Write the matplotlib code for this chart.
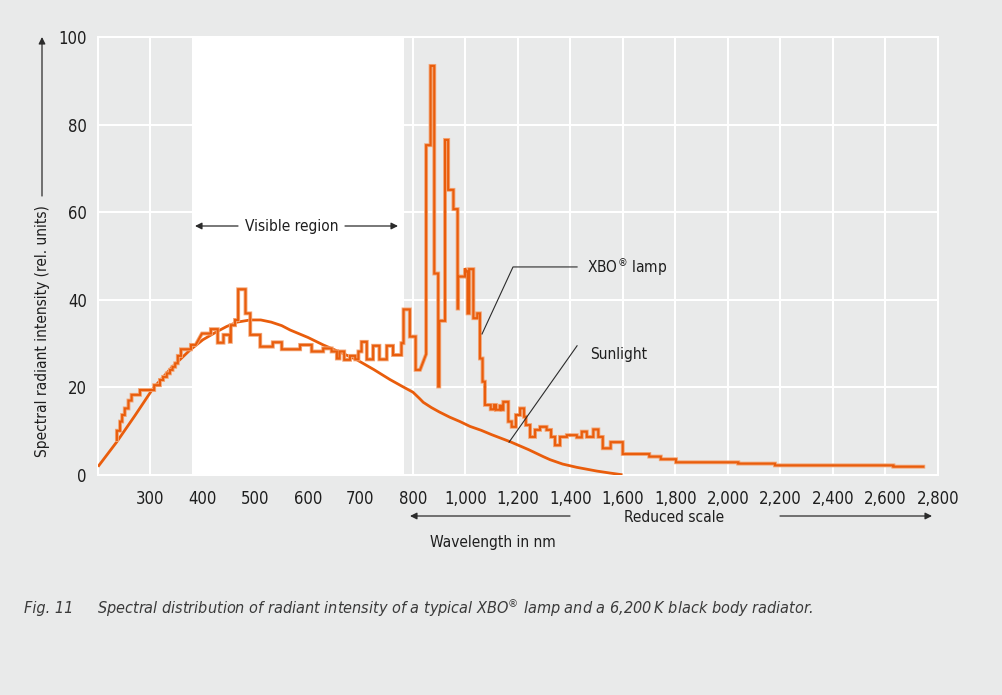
import matplotlib
matplotlib.use('Agg')
import matplotlib.pyplot as plt
from matplotlib import font_manager as fm
import numpy as np

# wavelength axis: 100 nm per step up to 800 nm, 200 nm per step after ("reduced scale")
tick_nm = [300, 400, 500, 600, 700, 800, 1000, 1200, 1400, 1600, 1800, 2000, 2200, 2400, 2600, 2800]
tick_labels = ['300', '400', '500', '600', '700', '800', '1,000', '1,200', '1,400', '1,600',
               '1,800', '2,000', '2,200', '2,400', '2,600', '2,800']
y_ticks = [0, 20, 40, 60, 80, 100]

# 6,200 K black body (sunlight)
sun_nm = [200, 236, 270, 305, 340, 375, 400, 426, 445, 465, 490, 510, 530, 550, 566, 600, 629, 660, 693,
          725, 756, 780, 800, 826, 839, 870, 900, 940, 979, 1017, 1060, 1100, 1170, 1240, 1296, 1322,
          1370, 1424, 1500, 1550, 1598]
sun_val = [1.9, 7.6, 13.5, 19.8, 24.5, 28.5, 30.9, 32.7, 33.9, 34.9, 35.4, 35.4, 34.9, 34.1, 33.1, 31.4, 29.7,
           28.1, 26.3, 24.1, 21.8, 20.2, 18.9, 17.4, 16.6, 15.4, 14.4, 13.2, 12.2, 11.1, 10.2, 9.2, 7.6, 5.8,
           4.2, 3.5, 2.5, 1.75, 0.9, 0.45, 0.05]

# XBO lamp (stepped spectrum, vertices)
xbo_nm = [236, 236, 242, 242, 246, 246, 251, 251, 258, 258, 264, 264, 280, 280, 307, 307, 318, 318,
          324, 324, 331, 331, 337, 337, 342, 342, 347, 347, 352, 352, 358, 358, 377, 377, 386, 398,
          415, 415, 428, 428, 439, 439, 451, 451, 453, 453, 461, 461, 467, 467, 481, 481, 490, 490,
          509, 509, 533, 533, 550, 550, 585, 585, 607, 607, 629, 629, 645, 645, 655, 655, 660, 660,
          669, 669, 680, 680, 690, 690, 696, 696, 702, 702, 712, 712, 724, 724, 736, 736, 750, 750,
          762, 762, 778, 778, 782, 782, 794, 794, 810, 810, 827, 850, 850, 867, 867, 881, 881, 896,
          896, 900, 900, 922, 922, 934, 934, 954, 954, 970, 970, 972, 972, 998, 998, 1004, 1008, 1008,
          1014, 1014, 1030, 1030, 1045, 1045, 1055, 1055, 1065, 1065, 1074, 1074, 1096, 1096, 1109, 1109,
          1116, 1116, 1131, 1131, 1138, 1138, 1144, 1144, 1163, 1163, 1176, 1176, 1192, 1192, 1208, 1208,
          1223, 1223, 1230, 1230, 1246, 1246, 1265, 1265, 1284, 1284, 1309, 1309, 1326, 1326, 1341, 1341,
          1360, 1360, 1386, 1386, 1424, 1424, 1443, 1443, 1462, 1462, 1487, 1487, 1506, 1506, 1523, 1523,
          1553, 1553, 1599, 1599, 1700, 1700, 1744, 1744, 1802, 1802, 2039, 2039, 2179, 2179, 2630, 2630,
          2744]
xbo_val = [8.0, 10.1, 10.1, 12.2, 12.2, 13.7, 13.7, 15.2, 15.2, 17.0, 17.0, 18.3, 18.3, 19.4, 19.4, 20.5, 20.5, 21.7,
           21.7, 22.4, 22.4, 23.2, 23.2, 24.0, 24.0, 24.7, 24.7, 25.5, 25.5, 27.2, 27.2, 28.7, 28.7, 29.7, 29.7, 32.3,
           32.3, 33.3, 33.3, 30.2, 30.2, 32.0, 32.0, 30.4, 30.4, 34.2, 34.2, 35.4, 35.4, 42.4, 42.4, 36.9, 36.9, 32.0,
           32.0, 29.3, 29.3, 30.3, 30.3, 28.7, 28.7, 29.7, 29.7, 28.2, 28.2, 28.9, 28.9, 28.2, 28.2, 26.6, 26.6, 28.2,
           28.2, 26.3, 26.3, 27.2, 27.2, 26.4, 26.4, 28.2, 28.2, 30.4, 30.4, 26.4, 26.4, 29.5, 29.5, 26.4, 26.4, 29.5,
           29.5, 27.4, 27.4, 30.1, 30.1, 37.8, 37.8, 31.6, 31.6, 24.0, 24.0, 27.6, 75.3, 75.3, 93.4, 93.4, 46.0, 46.0,
           20.2, 20.2, 35.2, 35.2, 76.5, 76.5, 65.1, 65.1, 60.7, 60.7, 38.0, 38.0, 45.3, 45.3, 47.2, 46.5, 46.5, 36.9,
           36.9, 47.0, 47.0, 35.8, 35.8, 36.9, 36.9, 26.6, 26.6, 21.3, 21.3, 16.0, 16.0, 15.0, 15.0, 16.0,
           16.0, 14.9, 14.9, 15.8, 15.8, 14.9, 14.9, 16.7, 16.7, 12.2, 12.2, 11.0, 11.0, 13.7, 13.7, 15.2,
           15.2, 13.3, 13.3, 11.4, 11.4, 8.7, 8.7, 10.3, 10.3, 11.0, 11.0, 10.3, 10.3, 8.7, 8.7, 6.8,
           6.8, 8.7, 8.7, 9.1, 9.1, 8.6, 8.6, 9.9, 9.9, 8.7, 8.7, 10.4, 10.4, 8.7, 8.7, 6.1,
           6.1, 7.5, 7.5, 4.8, 4.8, 4.2, 4.2, 3.6, 3.6, 2.9, 2.9, 2.6, 2.6, 2.2, 2.2, 1.9,
           1.9]

bg = '#e9eaea'
orange = '#e95d0c'
dark = '#2b2b2b'
txt = '#1e1e1e'

# narrow font if there is one, else condensed DejaVu, else plain with smaller size
names = {f.name for f in fm.fontManager.ttflist}
k = 1.0
if 'Liberation Sans Narrow' in names:
    plt.rcParams['font.family'] = ['Liberation Sans Narrow', 'DejaVu Sans']
    k = 1.08
elif any(f.name == 'DejaVu Sans' and f.stretch == 'condensed' for f in fm.fontManager.ttflist):
    plt.rcParams['font.family'] = ['DejaVu Sans']
    plt.rcParams['font.stretch'] = 'condensed'
else:
    plt.rcParams['font.family'] = ['DejaVu Sans']
    k = 0.9
fs_tick = 12 * k
fs = 11.1 * k
fs_cap = 11.6 * k

W, H = 1003, 695
def fx(px):
    return px / W
def fy(py):
    return 1 - py / H

def fwd(w):
    w = np.asarray(w, dtype=float)
    return np.where(w <= 800, w / 100.0, 8 + (w - 800) / 200.0)

def inv(u):
    u = np.asarray(u, dtype=float)
    return np.where(u <= 8, u * 100.0, 800 + (u - 8) * 200.0)

fig = plt.figure(figsize=(W / 100, H / 100), dpi=100)
fig.patch.set_facecolor(bg)
ax = fig.add_axes([fx(98), fy(475), (938 - 98) / W, (475 - 37) / H])
ax.set_facecolor(bg)
ax.set_xscale('function', functions=(fwd, inv))
ax.set_xlim(200, 2800)
ax.set_ylim(0, 100)
for s in ax.spines.values():
    s.set_visible(False)

# visible region
ax.axvspan(380, 782, color='white', zorder=0, lw=0)

for w in [200] + tick_nm:
    ax.axvline(w, color='white', lw=1.5, zorder=1, clip_on=False)
for v in y_ticks:
    ax.axhline(v, color='white', lw=1.5, zorder=1, clip_on=False)

ax.plot(sun_nm, sun_val, color=orange, lw=2.0, zorder=3, solid_capstyle='butt')
ax.plot(xbo_nm, xbo_val, color='#f3a677', lw=2.8, zorder=3, solid_joinstyle='miter')
ax.plot(xbo_nm, xbo_val, color=orange, lw=1.5, zorder=4, solid_joinstyle='miter')

ax.set_xticks(tick_nm)
ax.set_xticklabels(tick_labels)
ax.set_yticks(y_ticks)
ax.xaxis.set_minor_locator(matplotlib.ticker.NullLocator())
ax.tick_params(axis='both', length=0, labelsize=fs_tick, colors=txt)
ax.tick_params(axis='x', pad=11)
ax.tick_params(axis='y', pad=8)

arrow = dict(arrowstyle='-|>', color=dark, lw=0.9, mutation_scale=10, shrinkA=0, shrinkB=0)

# y label with arrow
fig.text(fx(43), fy(331), 'Spectral radiant intensity (rel. units)', rotation=90,
         ha='center', va='center', fontsize=fs, color=txt)
ax.annotate('', xy=(fx(42), fy(37)), xytext=(fx(42), fy(196)), xycoords='figure fraction',
            arrowprops=arrow)

# visible region label
fig.text(fx(292), fy(226), 'Visible region', ha='center', va='center', fontsize=fs, color=txt)
ax.annotate('', xy=(fx(195), fy(226)), xytext=(fx(238), fy(226)), xycoords='figure fraction',
            arrowprops=arrow)
ax.annotate('', xy=(fx(398), fy(226)), xytext=(fx(345), fy(226)), xycoords='figure fraction',
            arrowprops=arrow)

# leader lines
ax.plot([1063, 1181, 1425], [32.2, 47.5, 47.5], color=dark, lw=0.8, zorder=5)
ax.text(1463, 47.5, 'XBO$^{®}$ lamp', ha='left', va='center', fontsize=fs, color=txt)
ax.plot([1166, 1425], [7.5, 29.5], color=dark, lw=0.8, zorder=5)
ax.text(1474, 27.6, 'Sunlight', ha='left', va='center', fontsize=fs, color=txt)

# axis annotation below
ax.annotate('', xy=(fx(410), fy(516)), xytext=(fx(570), fy(516)), xycoords='figure fraction',
            arrowprops=arrow)
ax.annotate('', xy=(fx(932), fy(516)), xytext=(fx(780), fy(516)), xycoords='figure fraction',
            arrowprops=arrow)
fig.text(fx(674), fy(517), 'Reduced scale', ha='center', va='center', fontsize=fs, color=txt)
fig.text(fx(493), fy(543), 'Wavelength in nm', ha='center', va='center', fontsize=fs, color=txt)

# caption
fig.text(fx(24), fy(608), 'Fig. 11', ha='left', va='center', fontsize=fs_cap, style='italic', color='#3a3a3a')
fig.text(fx(97), fy(608), 'Spectral distribution of radiant intensity of a typical XBO$^{®}$ lamp and a 6,200\u2009K black body radiator.',
         ha='left', va='center', fontsize=fs_cap, style='italic', color='#3a3a3a')

fig.savefig('out.png', dpi=100, facecolor=bg)
